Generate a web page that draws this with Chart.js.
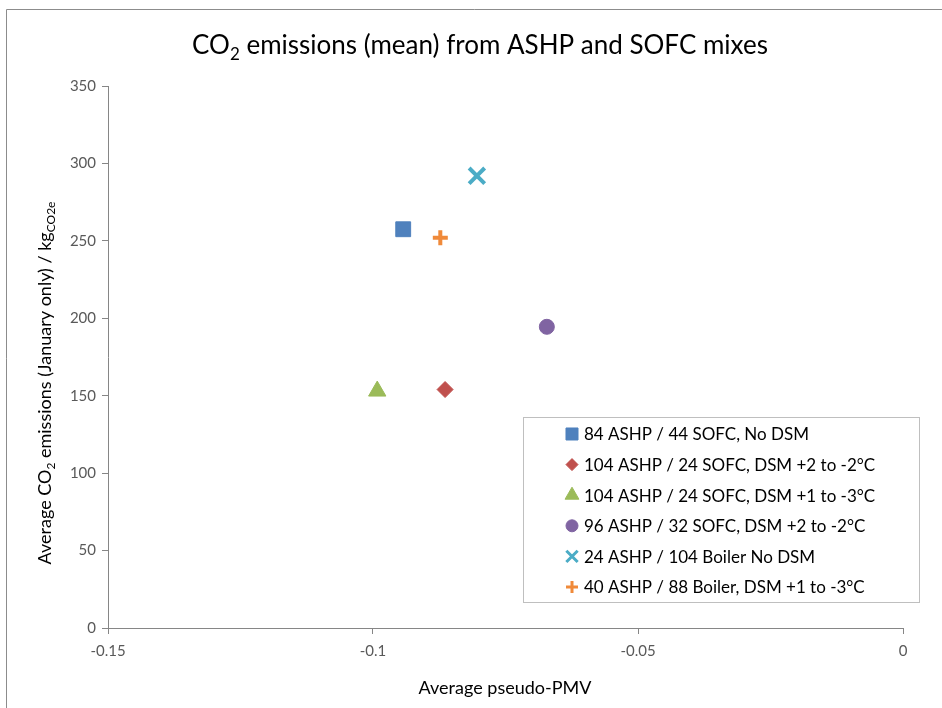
<!DOCTYPE html>
<html>
<head>
<meta charset="utf-8">
<script src="https://cdn.jsdelivr.net/npm/chart.js@4.4.0/dist/chart.umd.min.js"></script>
<style>
  html, body { margin: 0; padding: 0; background: #fff; }
  #wrap { width: 942px; height: 708px; }
</style>
</head>
<body>
<div id="wrap"><canvas id="co2Chart" width="942" height="708"></canvas></div>
<script>
// data
const seriesLabels = [
    '84 ASHP / 44 SOFC, No DSM',
    '104 ASHP / 24 SOFC, DSM +2 to -2°C',
    '104 ASHP / 24 SOFC, DSM +1 to -3°C',
    '96 ASHP / 32 SOFC, DSM +2 to -2°C',
    '24 ASHP / 104 Boiler No DSM',
    '40 ASHP / 88 Boiler, DSM +1 to -3°C'
];
const pmvValues = [-0.0943, -0.0864, -0.0992, -0.0672, -0.0804, -0.0873];
const co2Values = [257.5, 154, 153, 194.5, 292, 252];
const xTickValues = [-0.15, -0.1, -0.05, 0];
const yTickValues = [0, 50, 100, 150, 200, 250, 300, 350];

const colors = ['#4F81BD', '#C0504D', '#9BBB59', '#8064A2', '#4BACC6', '#F08A3A'];
const styles = ['rect', 'rectRot', 'triangle', 'circle', 'crossRot', 'cross'];
const radii = [10.5, 8, 10, 7.5, 11, 7.5];
const legendRadii = [8.5, 6, 8, 6, 8, 6];

const FONT = 'Lato, "Open Sans", sans-serif';
const TEXT = '#000000';
const TICK = '#595959';

function richText(ctx, parts, size, x, y, align) {
    // parts: [text, isSub]
    const subSize = Math.round(size * 0.65);
    let total = 0;
    parts.forEach(p => {
        ctx.font = (p[1] ? subSize : size) + 'px ' + FONT;
        total += ctx.measureText(p[0]).width;
    });
    let cx = align === 'center' ? x - total / 2 : x;
    ctx.textAlign = 'left';
    ctx.textBaseline = 'alphabetic';
    parts.forEach(p => {
        ctx.font = (p[1] ? subSize : size) + 'px ' + FONT;
        ctx.fillText(p[0], cx, y + (p[1] ? size * 0.22 : 0));
        cx += ctx.measureText(p[0]).width;
    });
}

const decorPlugin = {
    id: 'decor',
    beforeDraw(chart) {
        const ctx = chart.ctx;
        ctx.save();
        ctx.fillStyle = '#fff';
        ctx.fillRect(0, 0, chart.width, chart.height);
        ctx.strokeStyle = '#8C8C8C';
        ctx.lineWidth = 1;
        ctx.beginPath();
        ctx.moveTo(6.5, chart.height);
        ctx.lineTo(6.5, 9.5);
        ctx.lineTo(chart.width, 9.5);
        ctx.stroke();
        ctx.restore();
    },
    afterDraw(chart) {
        const ctx = chart.ctx;
        ctx.save();
        ctx.fillStyle = TEXT;
        // title
        richText(ctx, [['CO', false], ['2', true], [' emissions (mean) from ASHP and SOFC mixes', false]], 26, 480, 54, 'center');
        // x title
        richText(ctx, [['Average pseudo-PMV', false]], 18, 505, 694, 'center');
        // y title
        ctx.save();
        ctx.translate(51, 383);
        ctx.rotate(-Math.PI / 2);
        richText(ctx, [['Average CO', false], ['2', true], [' emissions (January only) / kg', false], ['CO2e', true]], 18, 0, 0, 'center');
        ctx.restore();

        // legend box
        const bx = 523.5, by = 417.5, bw = 396, bh = 185;
        ctx.fillStyle = '#fff';
        ctx.fillRect(bx, by, bw, bh);
        ctx.strokeStyle = '#BFBFBF';
        ctx.lineWidth = 1;
        ctx.strokeRect(bx, by, bw, bh);
        chart.data.datasets.forEach((ds, i) => {
            const yy = 434 + i * 30.6;
            ctx.fillStyle = colors[i];
            ctx.strokeStyle = colors[i];
            ctx.lineWidth = (styles[i] === 'cross' || styles[i] === 'crossRot') ? 3 : 1;
            Chart.helpers.drawPoint(ctx, { pointStyle: styles[i], radius: legendRadii[i], rotation: 0, borderWidth: ctx.lineWidth }, 572, yy);
            ctx.fillStyle = TEXT;
            ctx.font = '17px ' + FONT;
            ctx.textAlign = 'left';
            ctx.textBaseline = 'middle';
            ctx.fillText(ds.label, 584, yy + 1);
        });
        ctx.restore();
    }
};

const datasets = seriesLabels.map((label, i) => ({
    label: label,
    data: [{ x: pmvValues[i], y: co2Values[i] }],
    pointStyle: styles[i],
    pointRadius: radii[i],
    pointHoverRadius: radii[i],
    backgroundColor: colors[i],
    borderColor: colors[i],
    borderWidth: (styles[i] === 'cross' || styles[i] === 'crossRot') ? 4 : 1
}));

const ctx = document.getElementById('co2Chart').getContext('2d');
const co2Chart = new Chart(ctx, {
    type: 'scatter',
    data: { datasets: datasets },
    plugins: [decorPlugin],
    options: {
        responsive: false,
        animation: false,
        events: [],
        layout: { padding: { left: 0, top: 86, right: 39, bottom: 0 } },
        plugins: {
            legend: { display: false },
            title: { display: false },
            tooltip: { enabled: false }
        },
        scales: {
            x: {
                type: 'linear',
                min: xTickValues[0],
                max: xTickValues[xTickValues.length - 1],
                afterBuildTicks: axis => { axis.ticks = xTickValues.map(v => ({ value: v })); },
                afterFit: axis => { axis.height = 80; },
                ticks: {
                    color: TICK,
                    font: { family: FONT, size: 15 },
                    padding: 8,
                    maxRotation: 0,
                    callback: v => String(parseFloat(v.toFixed(2)))
                },
                grid: { drawOnChartArea: false, tickLength: 6, color: '#868686' },
                border: { color: '#868686' }
            },
            y: {
                min: yTickValues[0],
                max: yTickValues[yTickValues.length - 1],
                afterBuildTicks: axis => { axis.ticks = yTickValues.map(v => ({ value: v })); },
                afterFit: axis => { axis.width = 108; },
                ticks: {
                    color: TICK,
                    font: { family: FONT, size: 15 },
                    padding: 6
                },
                grid: { drawOnChartArea: false, tickLength: 6, color: '#868686' },
                border: { color: '#868686' }
            }
        }
    }
});
</script>
</body>
</html>
